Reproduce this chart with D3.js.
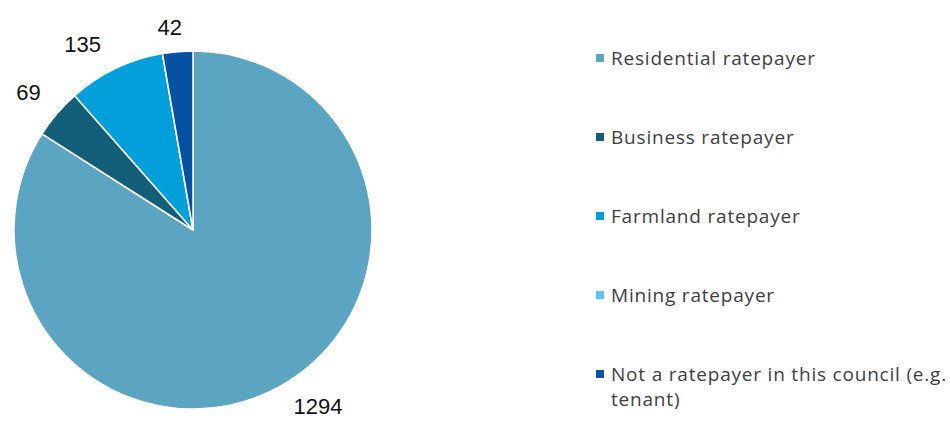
<!DOCTYPE html>
<html>
<head>
<meta charset="utf-8">
<script src="https://cdn.jsdelivr.net/npm/d3@7"></script>
<style>
  html, body { margin: 0; padding: 0; background: #fff; }
  svg { display: block; }
</style>
</head>
<body>
<svg id="chart" width="950" height="421"></svg>
<script>
// Respondent ratepayer categories and counts
const categories = [
  "Residential ratepayer",
  "Business ratepayer",
  "Farmland ratepayer",
  "Mining ratepayer",
  "Not a ratepayer in this council (e.g. tenant)"
];
const counts = [1294, 69, 135, 0, 42];
const colors = ["#5ba4c2", "#135f7a", "#039fda", "#5cc4ed", "#0652a2"];

const svg = d3.select("#chart");
const cx = 193, cy = 230, radius = 179;

const data = categories.map((c, i) => ({ name: c, value: counts[i], color: colors[i] }));

const pie = d3.pie().value(d => d.value).sort(null);
const arcs = pie(data);

const arc = d3.arc().innerRadius(0).outerRadius(radius);
const labelArc = d3.arc().innerRadius(214).outerRadius(214);

// small per-slice label nudges so the numbers clear each other
const labelNudge = [[22, -11], [-2, 2], [-18, 7], [0, 0], [-5, 11]];

const g = svg.append("g").attr("transform", `translate(${cx},${cy})`);

g.selectAll("path.slice")
  .data(arcs)
  .join("path")
  .attr("class", "slice")
  .attr("d", arc)
  .attr("fill", d => d.data.color)
  .attr("stroke", "#fff")
  .attr("stroke-width", 1.5)
  .attr("stroke-linejoin", "round");

// Value labels placed just outside each slice
g.selectAll("text.val")
  .data(arcs.filter(d => d.data.value > 0))
  .join("text")
  .attr("class", "val")
  .attr("transform", d => {
    const [x, y] = labelArc.centroid(d);
    const n = labelNudge[d.index];
    return `translate(${x + n[0]},${y + n[1]})`;
  })
  .attr("text-anchor", "middle")
  .attr("dominant-baseline", "central")
  .attr("font-family", "Liberation Sans, Arial, sans-serif")
  .attr("font-size", 22)
  .attr("fill", "#111")
  .text(d => d.data.value);

// Legend
const legendX = 596, legendTop = 58, legendStep = 79, wrapWidth = 354;
const legend = svg.append("g");

data.forEach((d, i) => {
  const y = legendTop + i * legendStep;
  legend.append("rect")
    .attr("x", legendX)
    .attr("y", y - 4)
    .attr("width", 8)
    .attr("height", 8)
    .attr("fill", d.color);
  const t = legend.append("text")
    .attr("x", legendX + 15)
    .attr("y", y)
    .attr("dominant-baseline", "central")
    .attr("font-family", "'Open Sans', Lato, sans-serif")
    .attr("font-size", 19)
    .attr("letter-spacing", 0.8)
    .attr("fill", "#404040");
  // simple word wrap
  const words = d.name.split(" ");
  let line = [];
  let tspan = t.append("tspan").attr("x", legendX + 15).attr("dy", 0);
  words.forEach(w => {
    line.push(w);
    tspan.text(line.join(" "));
    if (tspan.node().getComputedTextLength() > wrapWidth - 15 && line.length > 1) {
      line.pop();
      tspan.text(line.join(" "));
      line = [w];
      tspan = t.append("tspan").attr("x", legendX + 15).attr("dy", 25).text(w);
    }
  });
});
</script>
</body>
</html>
